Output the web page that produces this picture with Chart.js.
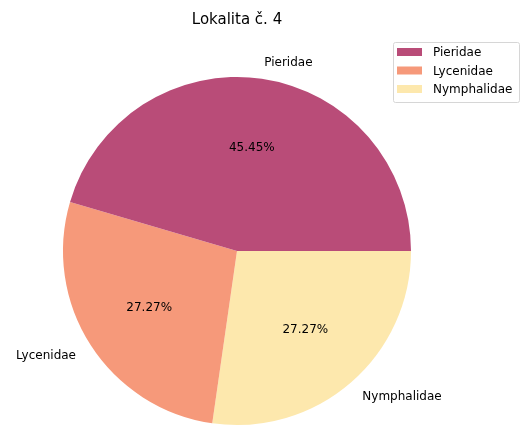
<!DOCTYPE html>
<html>
<head>
<meta charset="utf-8">
<script src="https://cdn.jsdelivr.net/npm/chart.js@4"></script>
<style>
  html, body { margin: 0; padding: 0; background: #fff; }
  #wrap { width: 521px; height: 426px; }
</style>
</head>
<body>
<div id="wrap"><canvas id="myChart" width="521" height="426"></canvas></div>
<script>
const chartTitle = 'Lokalita č. 4';
const families = ['Pieridae', 'Lycenidae', 'Nymphalidae'];
const counts = [5, 3, 3];
const colors = ['#b94c78', '#f6997a', '#fde8ad'];

const FONT = '"DejaVu Sans", sans-serif';

// matplotlib draws counter-clockwise from 3 o'clock, Chart.js clockwise,
// so feed the slices in reverse and start at 90 degrees
const order = families.map((_, i) => families.length - 1 - i);

const pieLabels = {
    id: 'pieLabels',
    afterDraw(chart) {
        const ctx = chart.ctx;
        const meta = chart.getDatasetMeta(0);
        const total = counts.reduce((a, b) => a + b, 0);
        ctx.save();
        ctx.fillStyle = '#000';
        ctx.textBaseline = 'middle';

        meta.data.forEach((arc, i) => {
            const mid = (arc.startAngle + arc.endAngle) / 2;
            const r = arc.outerRadius;
            const cos = Math.cos(mid), sin = Math.sin(mid);

            // outer name label
            ctx.font = '12px ' + FONT;
            ctx.textAlign = cos >= 0 ? 'left' : 'right';
            ctx.fillText(chart.data.labels[i], arc.x + cos * r * 1.1, arc.y + sin * r * 1.1 + 1);

            // percentage inside
            const pct = (chart.data.datasets[0].data[i] / total * 100).toFixed(2) + '%';
            ctx.textAlign = 'center';
            ctx.fillText(pct, arc.x + cos * r * 0.6, arc.y + sin * r * 0.6);
        });

        // title centred over the pie
        const first = meta.data[0];
        ctx.font = '15px ' + FONT;
        ctx.textAlign = 'center';
        ctx.fillText(chartTitle, first.x, 20);

        // legend box, top right
        const lx = 393, ly = 42, lw = 126, lh = 60;
        ctx.fillStyle = 'rgba(255,255,255,0.8)';
        ctx.strokeStyle = '#d6d6d6';
        ctx.lineWidth = 1;
        ctx.beginPath();
        ctx.roundRect(lx + 0.5, ly + 0.5, lw, lh, 2);
        ctx.fill();
        ctx.stroke();
        ctx.font = '12px ' + FONT;
        ctx.textAlign = 'left';
        families.forEach((name, i) => {
            const y = ly + 10 + i * 18.5;
            ctx.fillStyle = colors[i];
            ctx.fillRect(lx + 4, y - 4, 25, 8);
            ctx.fillStyle = '#000';
            ctx.fillText(name, lx + 40, y + 1);
        });
        ctx.restore();
    }
};

new Chart(document.getElementById('myChart').getContext('2d'), {
    type: 'pie',
    data: {
        labels: order.map(i => families[i]),
        datasets: [{
            data: order.map(i => counts[i]),
            backgroundColor: order.map(i => colors[i]),
            borderWidth: 0,
        }],
    },
    options: {
        responsive: false,
        animation: false,
        rotation: 90,
        layout: { padding: { left: 63, right: 110, top: 77, bottom: 1 } },
        plugins: {
            legend: { display: false },
            tooltip: { enabled: false },
        },
    },
    plugins: [pieLabels],
});
</script>
</body>
</html>
